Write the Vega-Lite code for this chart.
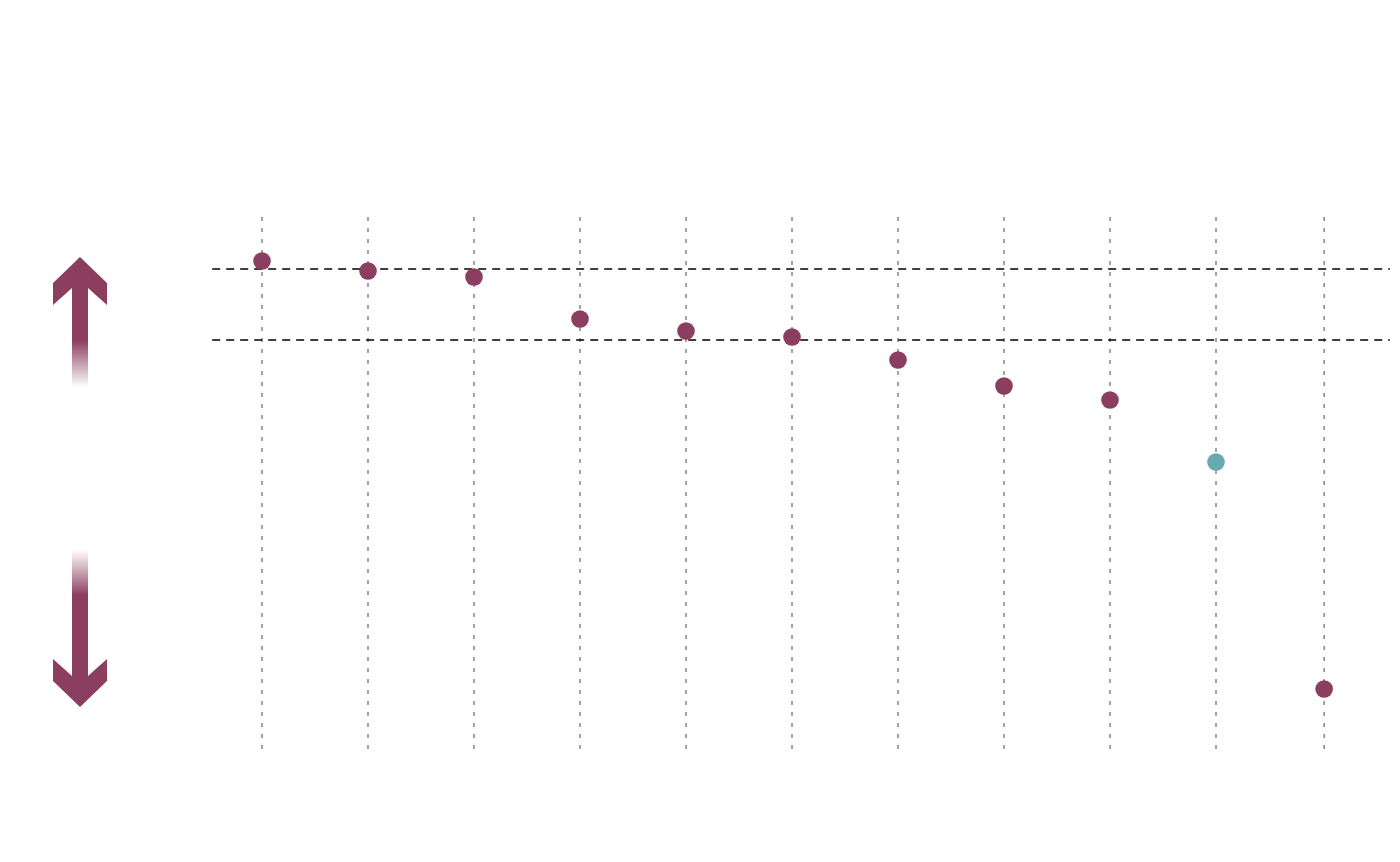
{
  "$schema": "https://vega.github.io/schema/vega-lite/v6.json",
  "width": 1400,
  "height": 862,
  "autosize": {"type": "fit", "contains": "padding"},
  "padding": 0,
  "background": "white",
  "config": {"view": {"stroke": null}},
  "datasets": {
    "points": [
      {"i": 1, "v": 91.78, "group": "main"},
      {"i": 2, "v": 89.91, "group": "main"},
      {"i": 3, "v": 88.79, "group": "main"},
      {"i": 4, "v": 80.93, "group": "main"},
      {"i": 5, "v": 78.69, "group": "main"},
      {"i": 6, "v": 77.57, "group": "main"},
      {"i": 7, "v": 73.27, "group": "main"},
      {"i": 8, "v": 68.41, "group": "main"},
      {"i": 9, "v": 65.79, "group": "main"},
      {"i": 10, "v": 54.21, "group": "highlight"},
      {"i": 11.02, "v": 11.78, "group": "main"}
    ],
    "refs": [
      {"v": 90.28, "xs": 0.53, "xe": 11.64},
      {"v": 77.01, "xs": 0.53, "xe": 11.64}
    ],
    "arrows": [
      {"dir": "up", "i": -0.717, "v": 80.37},
      {"dir": "down", "i": -0.717, "v": 23.08}
    ]
  },
  "layer": [
    {
      "data": {"name": "points"},
      "mark": {"type": "rule", "stroke": "#666666", "strokeWidth": 1.2, "strokeDash": [4, 7]},
      "encoding": {
        "x": {"field": "i", "type": "quantitative", "scale": {"domain": [-1.4717, 11.7358], "nice": false, "zero": false}, "axis": null},
        "y": {"datum": 100, "type": "quantitative", "scale": {"domain": [-20.56, 140.56], "nice": false, "zero": false}, "axis": null},
        "y2": {"datum": 0}
      }
    },
    {
      "data": {"name": "refs"},
      "mark": {"type": "rule", "stroke": "#000000", "strokeWidth": 1.5, "strokeDash": [8, 6]},
      "encoding": {
        "x": {"field": "xs", "type": "quantitative"},
        "x2": {"field": "xe"},
        "y": {"field": "v", "type": "quantitative"}
      }
    },
    {
      "data": {"name": "points"},
      "mark": {"type": "circle", "size": 310, "opacity": 1},
      "encoding": {
        "x": {"field": "i", "type": "quantitative"},
        "y": {"field": "v", "type": "quantitative"},
        "color": {"field": "group", "type": "nominal", "scale": {"domain": ["main", "highlight"], "range": ["#8B3E5F", "#68A8B0"]}, "legend": null}
      }
    },
    {
      "data": {"name": "arrows"},
      "transform": [{"filter": "datum.dir === 'up'"}],
      "mark": {
        "type": "point",
        "filled": true,
        "opacity": 1,
        "strokeWidth": 0,
        "size": 25600,
        "shape": "M0,-0.8125L0.3375,-0.4875L0.3375,-0.2125L0.1,-0.425L0.1,0.8125L-0.1,0.8125L-0.1,-0.425L-0.3375,-0.2125L-0.3375,-0.4875Z",
        "color": {"gradient": "linear", "x1": 0, "y1": 0, "x2": 0, "y2": 1, "stops": [{"offset": 0, "color": "#8B3E5F"}, {"offset": 0.64, "color": "#8B3E5F"}, {"offset": 1, "color": "#ffffff"}]}
      },
      "encoding": {
        "x": {"field": "i", "type": "quantitative"},
        "y": {"field": "v", "type": "quantitative"}
      }
    },
    {
      "data": {"name": "arrows"},
      "transform": [{"filter": "datum.dir === 'down'"}],
      "mark": {
        "type": "point",
        "filled": true,
        "opacity": 1,
        "strokeWidth": 0,
        "size": 25600,
        "shape": "M0,0.98125L0.3375,0.65625L0.3375,0.38125L0.1,0.59375L0.1,-0.98125L-0.1,-0.98125L-0.1,0.59375L-0.3375,0.38125L-0.3375,0.65625Z",
        "color": {"gradient": "linear", "x1": 0, "y1": 0, "x2": 0, "y2": 1, "stops": [{"offset": 0, "color": "#ffffff"}, {"offset": 0.29, "color": "#8B3E5F"}, {"offset": 1, "color": "#8B3E5F"}]}
      },
      "encoding": {
        "x": {"field": "i", "type": "quantitative"},
        "y": {"field": "v", "type": "quantitative"}
      }
    }
  ]
}
